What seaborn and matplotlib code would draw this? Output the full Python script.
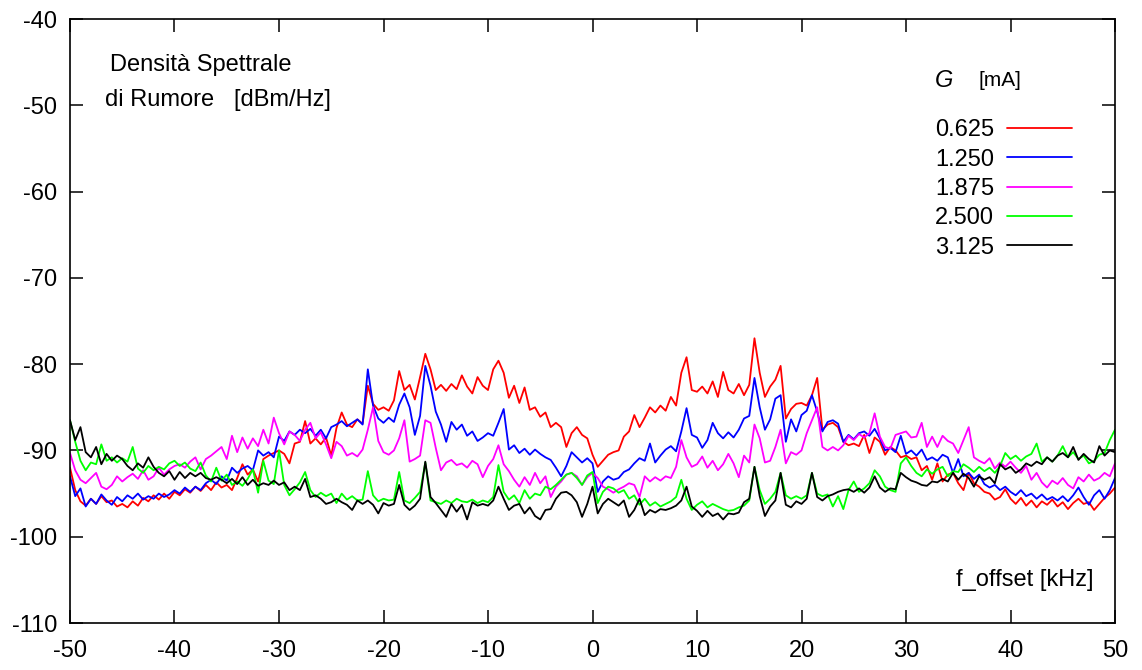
import numpy as np
import pandas as pd
import matplotlib
matplotlib.use("Agg")
import matplotlib.pyplot as plt
import seaborn as sns

# frequency grid [kHz], one value every 0.5 kHz
f_offset = np.arange(-50, 50.5, 0.5)

g_labels = ["0.625", "1.250", "1.875", "2.500", "3.125"]
colors = ["#ff0000", "#0000ff", "#ff00ff", "#00ff00", "#000000"]

# noise spectral density [dBm/Hz]
psd_0625 = [
    -92.0, -94.6, -95.9, -96.4, -95.6, -96.2, -95.3, -96.0, -95.8, -96.5, -96.2, -96.6, -95.9, -96.4, -95.5, -95.9, -95.2, -95.7, -95.0, -95.6,
    -94.8, -95.2, -94.5, -94.9, -94.2, -94.7, -94.0, -94.6, -93.7, -94.3, -94.0, -94.6, -93.2, -91.6, -92.8, -92.2, -93.6, -91.0, -90.6, -90.3,
    -90.0, -90.4, -91.5, -89.2, -89.0, -86.6, -89.2, -88.6, -89.3, -88.5, -90.6, -87.4, -85.6, -87.0, -87.3, -86.4, -86.9, -82.5, -84.6, -85.3,
    -85.0, -85.4, -84.2, -80.8, -83.0, -82.4, -84.1, -81.5, -78.8, -80.6, -83.0, -82.4, -83.1, -82.3, -82.9, -81.3, -82.6, -83.4, -81.5, -82.5,
    -83.0, -80.6, -79.6, -81.0, -83.9, -82.5, -84.5, -82.7, -85.3, -85.0, -86.1, -85.6, -87.3, -86.8, -87.3, -89.6, -88.0, -87.3, -88.2, -88.6,
    -90.5, -91.9, -91.2, -90.5, -90.2, -90.0, -88.4, -87.8, -85.9, -87.3, -86.2, -85.0, -85.6, -84.8, -85.4, -83.8, -84.8, -81.0, -79.2, -83.0,
    -83.2, -82.6, -83.4, -82.0, -83.8, -80.9, -83.0, -83.4, -82.3, -83.6, -82.4, -77.0, -81.0, -83.8, -82.6, -81.8, -80.2, -86.3, -85.2, -84.6,
    -84.5, -84.8, -83.6, -81.6, -87.6, -87.0, -86.8, -87.3, -89.0, -89.4, -89.2, -89.5, -88.2, -90.3, -88.5, -89.0, -90.5, -89.6, -90.0, -90.8,
    -90.6, -91.0, -90.8, -92.3, -91.8, -93.4, -91.5, -93.6, -92.8, -92.6, -93.8, -94.6, -92.6, -93.8, -94.2, -94.8, -95.0, -95.7, -95.4, -94.5,
    -95.6, -96.2, -95.5, -96.4, -95.8, -96.6, -95.9, -96.3, -95.7, -96.5, -96.0, -96.8, -96.1, -95.6, -96.2, -96.0, -96.9, -96.2, -95.5, -95.0,
    -94.3]

psd_1250 = [
    -93.0, -95.3, -94.4, -96.5, -95.6, -96.2, -95.1, -95.8, -96.3, -95.4, -95.9, -95.2, -95.6, -95.0, -95.7, -95.3, -95.6, -95.0, -95.4, -95.1,
    -94.6, -95.0, -94.3, -94.8, -94.2, -94.6, -93.8, -93.4, -93.9, -93.0, -93.5, -92.0, -92.6, -92.1, -91.8, -92.3, -90.0, -90.6, -90.2, -90.8,
    -88.4, -88.9, -87.8, -88.2, -87.6, -88.0, -87.5, -88.3, -87.6, -88.6, -87.3, -87.0, -86.6, -87.2, -86.8, -86.4, -87.0, -80.6, -84.8, -86.3,
    -86.8, -86.2, -86.7, -84.7, -83.4, -85.0, -88.2, -86.0, -80.2, -82.5, -85.5, -87.0, -89.0, -86.7, -87.6, -87.0, -88.3, -87.8, -88.9, -88.5,
    -88.0, -88.3, -86.8, -85.2, -89.9, -89.4, -90.3, -89.8, -90.5, -89.9, -90.4, -90.8, -91.1, -92.0, -93.0, -91.8, -90.2, -90.8, -91.4, -90.9,
    -91.5, -94.8, -93.6, -93.0, -93.4, -93.2, -92.5, -92.2, -91.5, -90.9, -91.2, -89.2, -91.4, -90.6, -89.9, -89.5, -90.1, -87.8, -85.1, -88.2,
    -88.5, -89.7, -88.8, -86.8, -88.0, -88.6, -87.9, -88.5, -87.6, -86.3, -86.0, -81.6, -85.0, -87.6, -86.4, -84.0, -83.6, -89.0, -86.4, -87.8,
    -85.9, -85.4, -83.6, -85.5, -87.8, -86.7, -86.5, -86.9, -89.0, -88.2, -88.7, -88.0, -87.8, -88.3, -87.5, -88.6, -90.0, -89.7, -90.2, -88.3,
    -90.4, -90.0, -90.6, -89.9, -91.1, -90.8, -91.2, -90.5, -90.8, -92.6, -91.0, -93.0, -92.6, -93.3, -92.8, -93.9, -94.3, -94.0, -94.6, -94.2,
    -94.8, -95.2, -94.6, -95.3, -95.0, -95.6, -95.1, -95.7, -95.4, -95.8, -95.3, -95.9, -95.2, -94.3, -95.4, -96.3, -95.2, -94.6, -95.6, -94.6,
    -93.2]

psd_1875 = [
    -90.3, -92.3, -93.4, -93.8, -93.2, -92.6, -94.2, -94.5, -94.0, -93.0, -93.6, -93.1, -92.7, -93.3, -92.3, -93.4, -93.0, -92.0, -92.8, -92.2,
    -91.8, -91.6, -92.0, -91.3, -90.8, -92.2, -91.0, -90.6, -90.1, -89.6, -91.0, -88.3, -90.2, -88.5, -89.8, -88.6, -89.5, -87.6, -89.2, -86.2,
    -88.0, -89.3, -87.8, -88.2, -88.9, -87.6, -86.8, -88.6, -87.9, -89.3, -90.9, -89.0, -89.5, -90.6, -90.3, -90.7, -89.9, -87.6, -85.0, -88.9,
    -90.2, -90.5, -90.0, -88.6, -86.5, -91.3, -91.0, -90.6, -86.5, -86.8, -89.7, -92.3, -91.4, -91.1, -91.7, -91.5, -92.0, -91.2, -91.6, -93.1,
    -91.8, -91.0, -89.4, -91.6, -92.4, -93.4, -94.2, -93.1, -94.0, -92.6, -93.8, -93.0, -95.4, -94.2, -93.6, -92.8, -92.6, -93.0, -94.0, -93.1,
    -92.6, -93.2, -94.2, -94.5, -94.9, -94.5, -94.2, -93.8, -94.0, -95.4, -93.0, -93.6, -93.1, -93.5, -93.0, -93.2, -91.9, -88.8, -90.8, -91.9,
    -91.6, -90.7, -92.0, -91.2, -92.3, -91.6, -90.4, -91.5, -93.1, -90.6, -91.4, -87.0, -88.6, -91.4, -91.2, -89.6, -87.6, -91.5, -90.2, -90.5,
    -90.0, -88.0, -86.5, -85.0, -89.6, -90.0, -89.6, -90.0, -89.4, -88.3, -88.8, -88.1, -88.5, -88.0, -85.7, -88.4, -89.6, -89.8, -88.2, -88.0,
    -87.8, -88.5, -88.4, -86.8, -89.6, -88.4, -89.6, -88.3, -88.9, -89.2, -90.3, -88.8, -87.3, -90.8, -91.2, -91.5, -90.9, -92.1, -91.4, -91.9,
    -91.3, -92.0, -92.6, -91.8, -93.4, -92.6, -93.7, -94.3, -93.5, -93.9, -93.2, -94.0, -94.4, -93.1, -93.6, -92.8, -93.5, -93.2, -92.6, -93.0,
    -91.5]

psd_2500 = [
    -86.5, -89.0, -91.2, -92.3, -91.4, -91.6, -89.3, -91.2, -90.8, -91.4, -90.9, -91.3, -89.6, -92.1, -92.6, -91.8, -92.3, -91.9, -92.2, -91.5,
    -91.2, -91.8, -91.4, -92.1, -92.4, -91.4, -92.9, -93.6, -92.0, -93.5, -92.8, -94.0, -93.6, -94.1, -93.3, -92.2, -94.9, -91.2, -93.5, -93.9,
    -90.0, -94.0, -95.2, -94.5, -93.7, -92.5, -94.6, -95.4, -94.9, -95.3, -95.0, -96.1, -95.0, -95.7, -95.3, -95.8, -95.7, -92.4, -95.2, -95.9,
    -95.6, -95.8, -95.7, -92.5, -95.8, -96.1, -95.5, -94.8, -91.4, -95.8, -96.0, -96.2, -95.8, -96.1, -95.6, -95.9, -96.0, -95.7, -96.1, -95.8,
    -96.0, -95.4, -91.7, -94.8, -95.7, -95.2, -96.1, -94.6, -95.6, -95.0, -95.2, -94.2, -94.5, -94.0, -93.4, -92.8, -92.6, -93.2, -94.0, -92.9,
    -92.5, -96.1, -94.8, -94.2, -94.4, -94.9, -94.6, -95.6, -95.2, -96.3, -95.6, -96.4, -96.0, -96.5, -96.2, -95.9, -95.4, -93.4, -95.6, -96.9,
    -96.3, -95.9, -96.6, -96.2, -96.5, -96.8, -97.0, -96.9, -96.6, -96.4, -95.8, -91.9, -94.6, -96.2, -95.6, -94.8, -92.6, -95.2, -95.6, -95.3,
    -95.6, -95.2, -92.6, -95.0, -95.3, -95.1, -96.5, -95.3, -96.8, -94.6, -93.6, -94.8, -94.4, -93.8, -92.3, -93.0, -94.2, -94.6, -94.8, -91.5,
    -90.8, -91.8, -92.6, -93.0, -92.2, -92.7, -92.2, -91.9, -93.0, -92.4, -92.5, -91.6, -92.0, -92.5, -91.9, -92.4, -92.0, -92.6, -91.8, -90.3,
    -91.0, -90.6, -91.2, -90.7, -90.4, -89.2, -91.3, -90.8, -91.3, -90.6, -89.5, -90.8, -90.2, -91.0, -90.6, -91.5, -91.2, -90.5, -90.3, -88.8,
    -87.6]

psd_3125 = [
    -86.5, -88.8, -87.3, -90.2, -90.8, -89.6, -91.6, -90.4, -91.2, -90.6, -91.0, -91.8, -92.3, -91.5, -92.0, -90.8, -91.9, -92.6, -93.0, -92.4,
    -93.4, -92.5, -93.2, -92.6, -93.0, -92.6, -93.2, -93.4, -93.1, -93.4, -93.8, -93.3, -93.9, -93.1, -94.0, -93.4, -94.1, -93.8, -94.0, -93.5,
    -94.0, -93.7, -94.6, -94.2, -94.6, -93.3, -95.4, -95.2, -95.6, -96.2, -96.0, -95.6, -96.0, -96.3, -96.9, -95.8, -96.2, -95.8, -96.3, -97.3,
    -96.1, -96.4, -96.2, -94.0, -96.3, -96.9, -96.4, -95.6, -91.3, -95.4, -96.1, -96.9, -97.7, -96.2, -97.1, -96.3, -98.0, -96.0, -96.4, -96.2,
    -96.4, -95.8, -94.2, -95.6, -96.9, -96.4, -96.2, -97.3, -96.6, -97.6, -98.0, -96.9, -96.8, -95.6, -94.9, -94.8, -95.2, -96.0, -97.7, -96.2,
    -94.2, -97.3, -96.2, -95.6, -96.0, -96.4, -95.8, -97.7, -96.9, -95.6, -97.5, -96.9, -97.2, -96.8, -96.9, -96.7, -96.4, -95.8, -94.2, -96.5,
    -97.0, -97.7, -97.0, -97.6, -97.3, -98.0, -97.3, -97.4, -97.2, -96.0, -95.6, -91.9, -95.3, -97.6, -96.5, -95.8, -92.6, -96.3, -96.6, -95.9,
    -96.2, -95.6, -92.6, -95.4, -95.8, -95.3, -95.1, -94.8, -94.6, -94.5, -94.8, -94.4, -94.9, -94.3, -93.0, -94.3, -94.8, -94.4, -94.5, -92.6,
    -93.1, -93.5, -93.7, -94.0, -94.1, -93.6, -93.7, -93.3, -93.6, -92.6, -93.4, -92.7, -93.2, -94.2, -93.0, -93.4, -93.1, -93.8, -91.6, -92.2,
    -91.9, -92.6, -92.2, -91.5, -91.8, -91.3, -91.6, -90.8, -91.3, -90.6, -90.3, -90.8, -89.6, -91.1, -90.4, -91.0, -91.4, -89.5, -90.6, -90.0,
    -90.2]

series = [psd_0625, psd_1250, psd_1875, psd_2500, psd_3125]
df = pd.concat([pd.DataFrame({"f": f_offset, "psd": s, "G": g})
                for g, s in zip(g_labels, series)], ignore_index=True)

sns.set_style("white")
plt.rcParams['font.family'] = ['Liberation Sans', 'DejaVu Sans']
plt.rcParams['axes.unicode_minus'] = False
plt.rcParams['text.color'] = 'black'

fig = plt.figure(figsize=(11.42, 6.70), dpi=100)
ax = fig.add_axes([70 / 1142, 47 / 670, 1045 / 1142, 604 / 670])

sns.lineplot(data=df, x="f", y="psd", hue="G", hue_order=g_labels,
             palette=colors, estimator=None, linewidth=1.3, ax=ax)

ax.set_xlim(-50, 50)
ax.set_ylim(-110, -40)
ax.set_xticks(range(-50, 51, 10))
ax.set_yticks(range(-110, -39, 10))
ax.set_xlabel("")
ax.set_ylabel("")
ax.tick_params(direction="in", length=9.5, width=1.1, colors="black",
               bottom=True, left=True, top=True, right=True, labelsize=17)
ax.tick_params(axis="x", pad=12)
ax.tick_params(axis="y", pad=9)
for sp in ax.spines.values():
    sp.set_color("black")
    sp.set_linewidth(1.2)

ax.text(0.0383, 0.924, "Densità Spettrale", fontsize=17, va="center", transform=ax.transAxes)
ax.text(0.0335, 0.866, "di Rumore   [dBm/Hz]", fontsize=17, va="center", transform=ax.transAxes)
ax.text(0.979, 0.071, "f_offset [kHz]", fontsize=17, ha="right", va="center", transform=ax.transAxes)

ax.text(0.8278, 0.899, "G", fontsize=17, style="italic", va="center", transform=ax.transAxes)
ax.text(0.8689, 0.899, "[mA]", fontsize=15, va="center", transform=ax.transAxes)

ax.legend(loc="upper left", bbox_to_anchor=(0.8278, 0.834), frameon=False,
          markerfirst=False, fontsize=17, handlelength=2.75, handletextpad=0.55,
          labelspacing=0.31, borderpad=0, borderaxespad=0, labelcolor="black")

fig.savefig("out.png", dpi=100)
